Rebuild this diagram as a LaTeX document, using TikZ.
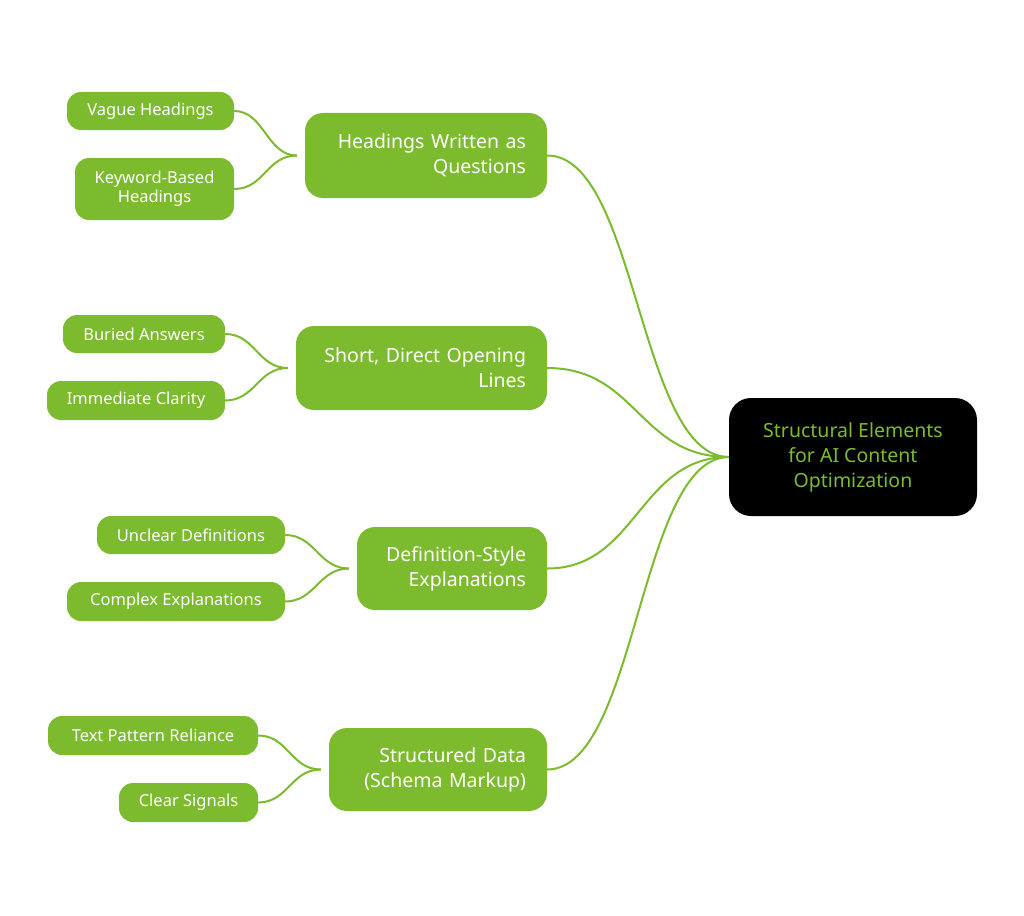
\documentclass[tikz,border=0pt]{standalone}
\usepackage{fontspec}
\setmainfont{Noto Sans}
\definecolor{leafgreen}{HTML}{7CBB2E}
\tikzset{
  box/.style={fill=leafgreen, text=white, rounded corners=14pt, inner sep=0pt, anchor=center},
  leaf/.style={box, font=\fontsize{16.5}{19}\selectfont, align=center},
  topic/.style={box, rounded corners=18pt, font=\fontsize{19.5}{25}\selectfont, align=right},
  link/.style={leafgreen, line width=2pt},
}
\begin{document}
\begin{tikzpicture}[x=1pt,y=-1pt]
\useasboundingbox (0,0) rectangle (1024,915);
% root
\node [box, fill=black, text=leafgreen, rounded corners=22pt, minimum width=248pt, minimum height=118pt,
  font=\fontsize{19.5}{25}\selectfont, align=center] (root) at (853,457) {Structural Elements\\for AI Content\\Optimization};
% topics
\node [topic, text width=200pt, minimum width=242pt, minimum height=85pt] (heads) at (426,155.5) {Headings Written as\\Questions};
\node [topic, text width=209pt, minimum width=251pt, minimum height=84pt] (short) at (421.5,368) {Short, Direct Opening\\Lines};
\node [topic, text width=148pt, minimum width=190pt, minimum height=83pt] (defs) at (452,568.5) {Definition-Style\\Explanations};
\node [topic, text width=176pt, minimum width=218pt, minimum height=83pt] (data) at (438,769.5) {Structured Data\\(Schema Markup)};
% leaves
\node [leaf, minimum width=167pt, minimum height=38pt] (vague) at (150.5,111) {Vague Headings};
\node [leaf, minimum width=159pt, minimum height=62pt] (keyword) at (154.5,189) {Keyword-Based\\Headings};
\node [leaf, minimum width=162pt, minimum height=38pt] (buried) at (144,334) {Buried Answers};
\node [leaf, minimum width=178pt, minimum height=39pt] (clarity) at (136,400.5) {Immediate Clarity};
\node [leaf, minimum width=188pt, minimum height=38pt] (unclear) at (191,535) {Unclear Definitions};
\node [leaf, minimum width=218pt, minimum height=39pt] (complex) at (176,601.5) {Complex Explanations};
\node [leaf, minimum width=210pt, minimum height=39pt] (pattern) at (153,735.5) {Text Pattern Reliance};
\node [leaf, minimum width=139pt, minimum height=39pt] (signals) at (188.5,802.5) {Clear Signals};
% root links
\foreach \t in {heads,short,defs,data}
  \draw [link] (root.west) .. controls +(-90,0) and +(90,0) .. (\t.east);
% leaf links
\foreach \t/\l in {heads/vague,heads/keyword,short/buried,short/clarity,defs/unclear,defs/complex,data/pattern,data/signals}
  \draw [link] ([xshift=-8pt]\t.west) .. controls +(-30,0) and +(30,0) .. (\l.east);
\end{tikzpicture}
\end{document}
